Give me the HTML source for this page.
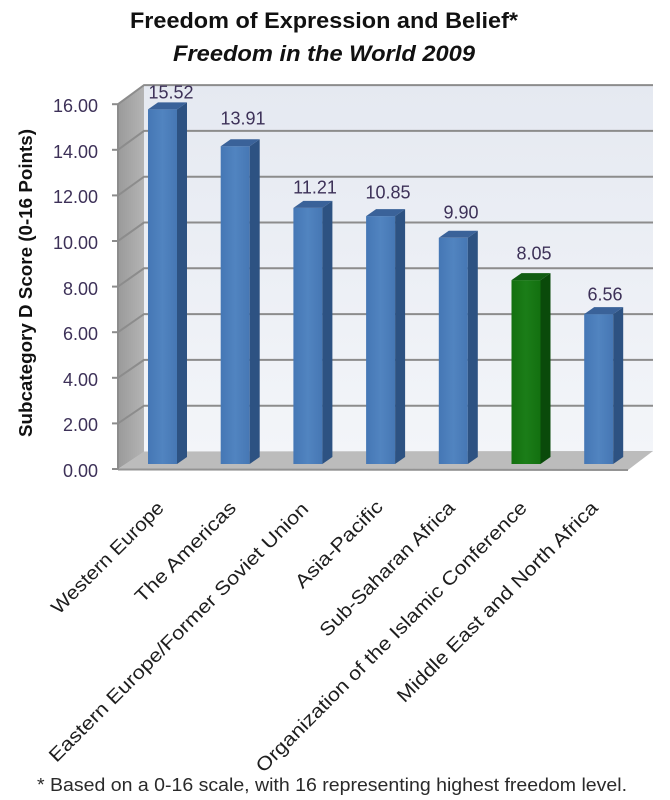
<!DOCTYPE html>
<html><head><meta charset="utf-8"><style>
html,body{margin:0;padding:0;background:#fff;}
svg{display:block;}
text{font-family:"Liberation Sans",sans-serif;}
</style></head><body>
<svg width="670" height="800" viewBox="0 0 670 800" xmlns="http://www.w3.org/2000/svg">
<defs>
<linearGradient id="wall" x1="0" y1="0" x2="0" y2="1">
<stop offset="0" stop-color="#e5e9f1"/><stop offset="1" stop-color="#f3f5f9"/>
</linearGradient>
<linearGradient id="lwall" x1="0" y1="0" x2="1" y2="0">
<stop offset="0" stop-color="#9a9a9a"/><stop offset="1" stop-color="#b4b4b4"/>
</linearGradient>
<linearGradient id="blue" x1="0" y1="0" x2="1" y2="0">
<stop offset="0" stop-color="#4577b5"/><stop offset="0.5" stop-color="#5184c0"/><stop offset="1" stop-color="#4677b4"/>
</linearGradient>
<linearGradient id="green" x1="0" y1="0" x2="1" y2="0">
<stop offset="0" stop-color="#13700f"/><stop offset="0.5" stop-color="#1b7d18"/><stop offset="1" stop-color="#137010"/>
</linearGradient>
</defs>

<!-- Title -->
<text x="324" y="28" text-anchor="middle" font-size="22" font-weight="bold" fill="#111" textLength="388" lengthAdjust="spacingAndGlyphs">Freedom of Expression and Belief*</text>
<text x="324" y="61" text-anchor="middle" font-size="22" font-weight="bold" font-style="italic" fill="#111" textLength="302" lengthAdjust="spacingAndGlyphs">Freedom in the World 2009</text>

<!-- Back wall -->
<rect x="144" y="85" width="509" height="367" fill="url(#wall)"/>
<!-- Left wall -->
<polygon points="118,104 144,85 144,452 118,469" fill="url(#lwall)"/>
<!-- Floor -->
<polygon points="118,469 144,451.5 653,451 628,470" fill="#bcbcbc"/>
<line x1="118" y1="469.5" x2="628" y2="470" stroke="#939393" stroke-width="2"/>

<!-- Gridlines -->
<g stroke="#8c8c8c" stroke-width="2" fill="none">
<polyline points="118,423.4 144,405.7 653,405.7"/>
<polyline points="118,377.8 144,359.9 653,359.9"/>
<polyline points="118,332.2 144,314.1 653,314.1"/>
<polyline points="118,286.6 144,268.3 653,268.3"/>
<polyline points="118,241.0 144,222.5 653,222.5"/>
<polyline points="118,195.4 144,176.7 653,176.7"/>
<polyline points="118,149.8 144,130.9 653,130.9"/>
<polyline points="118,104.2 144,85.1 653,85.1"/>
</g>
<!-- axis ticks -->
<g stroke="#8c8c8c" stroke-width="2">
<line x1="118" y1="104" x2="118" y2="469"/>
<line x1="112" y1="469" x2="118" y2="469"/>
<line x1="112" y1="423.4" x2="118" y2="423.4"/>
<line x1="112" y1="377.8" x2="118" y2="377.8"/>
<line x1="112" y1="332.2" x2="118" y2="332.2"/>
<line x1="112" y1="286.6" x2="118" y2="286.6"/>
<line x1="112" y1="241.0" x2="118" y2="241.0"/>
<line x1="112" y1="195.4" x2="118" y2="195.4"/>
<line x1="112" y1="149.8" x2="118" y2="149.8"/>
<line x1="112" y1="104.2" x2="118" y2="104.2"/>
</g>

<!-- Tick labels -->
<g font-size="18" fill="#3d3158" text-anchor="end">
<text x="98" y="477">0.00</text>
<text x="98" y="431">2.00</text>
<text x="98" y="386">4.00</text>
<text x="98" y="340">6.00</text>
<text x="98" y="295">8.00</text>
<text x="98" y="249">10.00</text>
<text x="98" y="203">12.00</text>
<text x="98" y="158">14.00</text>
<text x="98" y="112">16.00</text>
</g>

<!-- Y axis title -->
<text transform="translate(32,283) rotate(-90)" text-anchor="middle" font-size="18" font-weight="bold" fill="#111" textLength="308" lengthAdjust="spacingAndGlyphs">Subcategory D Score (0-16 Points)</text>

<!-- Bars -->
<!-- bar1 x0=148 t=109.4 -->
<g>
<rect x="148" y="109.4" width="29" height="354.6" fill="url(#blue)"/>
<polygon points="177,109.4 187,102.4 187,457 177,464" fill="#2d5282"/>
<polygon points="148,109.4 158,102.4 187,102.4 177,109.4" fill="#3a6299"/>
</g>
<g>
<rect x="220.7" y="146.2" width="29" height="317.8" fill="url(#blue)"/>
<polygon points="249.7,146.2 259.7,139.2 259.7,457 249.7,464" fill="#2d5282"/>
<polygon points="220.7,146.2 230.7,139.2 259.7,139.2 249.7,146.2" fill="#3a6299"/>
</g>
<g>
<rect x="293.4" y="207.9" width="29" height="256.1" fill="url(#blue)"/>
<polygon points="322.4,207.9 332.4,200.9 332.4,457 322.4,464" fill="#2d5282"/>
<polygon points="293.4,207.9 303.4,200.9 332.4,200.9 322.4,207.9" fill="#3a6299"/>
</g>
<g>
<rect x="366.1" y="216.1" width="29" height="247.9" fill="url(#blue)"/>
<polygon points="395.1,216.1 405.1,209.1 405.1,457 395.1,464" fill="#2d5282"/>
<polygon points="366.1,216.1 376.1,209.1 405.1,209.1 395.1,216.1" fill="#3a6299"/>
</g>
<g>
<rect x="438.8" y="237.8" width="29" height="226.2" fill="url(#blue)"/>
<polygon points="467.8,237.8 477.8,230.8 477.8,457 467.8,464" fill="#2d5282"/>
<polygon points="438.8,237.8 448.8,230.8 477.8,230.8 467.8,237.8" fill="#3a6299"/>
</g>
<g>
<rect x="511.5" y="280.1" width="29" height="183.9" fill="url(#green)"/>
<polygon points="540.5,280.1 550.5,273.1 550.5,457 540.5,464" fill="#0a4a0a"/>
<polygon points="511.5,280.1 521.5,273.1 550.5,273.1 540.5,280.1" fill="#115d12"/>
</g>
<g>
<rect x="584.2" y="314.1" width="29" height="149.9" fill="url(#blue)"/>
<polygon points="613.2,314.1 623.2,307.1 623.2,457 613.2,464" fill="#2d5282"/>
<polygon points="584.2,314.1 594.2,307.1 623.2,307.1 613.2,314.1" fill="#3a6299"/>
</g>

<!-- Value labels -->
<g font-size="18" fill="#3d3158" text-anchor="middle">
<text x="171" y="98.5">15.52</text>
<text x="243" y="124.5">13.91</text>
<text x="315" y="193.5">11.21</text>
<text x="388" y="198.5">10.85</text>
<text x="461" y="218.5">9.90</text>
<text x="534" y="259.5">8.05</text>
<text x="605" y="300.5">6.56</text>
</g>

<!-- Category labels -->
<g font-size="19" fill="#1e1e1e" text-anchor="end">
<text transform="translate(165,509) rotate(-45)" textLength="150" lengthAdjust="spacingAndGlyphs">Western Europe</text>
<text transform="translate(237.3,509) rotate(-45)" textLength="134" lengthAdjust="spacingAndGlyphs">The Americas</text>
<text transform="translate(309.6,510) rotate(-45)" textLength="358" lengthAdjust="spacingAndGlyphs">Eastern Europe/Former Soviet Union</text>
<text transform="translate(384,508) rotate(-45)" textLength="115" lengthAdjust="spacingAndGlyphs">Asia-Pacific</text>
<text transform="translate(456,509) rotate(-45)" textLength="182" lengthAdjust="spacingAndGlyphs">Sub-Saharan Africa</text>
<text transform="translate(528,509) rotate(-45)" textLength="374" lengthAdjust="spacingAndGlyphs">Organization of the Islamic Conference</text>
<text transform="translate(599,509) rotate(-45)" textLength="275" lengthAdjust="spacingAndGlyphs">Middle East and North Africa</text>
</g>

<!-- Footnote -->
<text x="37" y="791" font-size="18" fill="#2a2a2a" textLength="590" lengthAdjust="spacingAndGlyphs">* Based on a 0-16 scale, with 16 representing highest freedom level.</text>
</svg>
</body></html>
